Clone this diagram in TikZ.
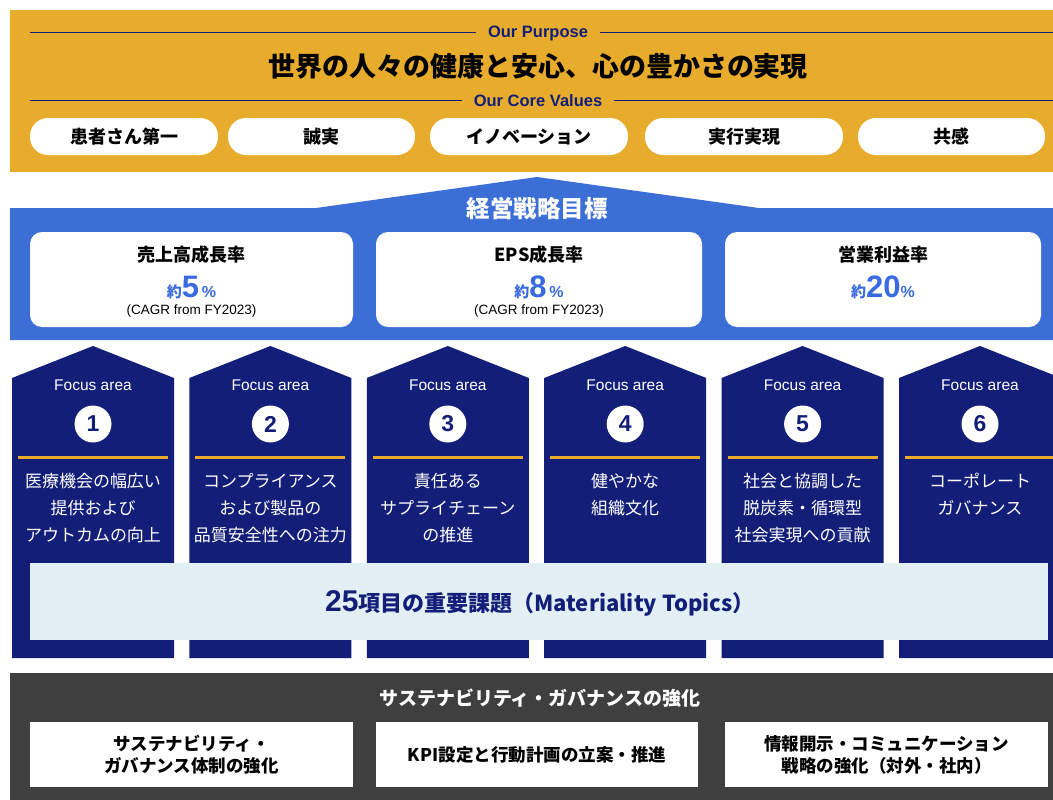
\documentclass[tikz,border=0pt]{standalone}
\usepackage{fontspec}
\setmainfont{Noto Sans CJK JP}
\newfontfamily\lat{Liberation Sans}
\definecolor{ygold}{HTML}{E8AC2C}
\definecolor{navy}{HTML}{121E78}
\definecolor{sblue}{HTML}{3C6FD6}
\definecolor{tblue}{HTML}{3A6AE0}
\definecolor{lband}{HTML}{E2F0F6}
\definecolor{dgrey}{HTML}{3F3F3F}
\tikzset{
  pill/.style={fill=white, rounded corners=18pt, draw=none},
  card/.style={fill=white, rounded corners=12pt, draw=none},
  gbox/.style={fill=white, draw=none},
  house/.style={fill=navy, draw=none},
  fa/.style={text=white, font=\lat\fontsize{15.5}{17}\selectfont, inner sep=0},
  num/.style={circle, fill=white, text=navy, minimum size=37pt, inner sep=0, font=\lat\bfseries\fontsize{23}{25}\selectfont},
  htext/.style={text=white, align=center, anchor=north, inner sep=0, font=\fontsize{17}{27}\selectfont},
  pilltext/.style={text=black, font=\bfseries\fontsize{18}{20}\selectfont, inner sep=0},
  cardtitle/.style={text=black, font=\bfseries\fontsize{18}{20}\selectfont, inner sep=0},
  cagr/.style={text=black, font=\lat\fontsize{13.5}{15}\selectfont, inner sep=0},
  rule/.style={draw=navy, line width=1pt},
  gtext/.style={text=black, align=center, font=\bfseries\fontsize{17.5}{22}\selectfont, inner sep=0}
}
\begin{document}
\begin{tikzpicture}[x=1pt,y=-1pt]
\useasboundingbox (0,0) rectangle (1053,800);
\fill[white] (0,0) rectangle (1053,800);
% ---------- yellow purpose band
\fill[ygold] (10,10) rectangle (1053,172);
\node[text=navy, font=\lat\bfseries\fontsize{16.5}{18}\selectfont, inner sep=0] (purp) at (538,33) {Our Purpose};
\coordinate (pl1) at (30,33); \coordinate (pr1) at (1053,33);
\draw[rule] (pl1) -- ([xshift=-12pt]purp.west);
\draw[rule] ([xshift=12pt]purp.east) -- (pr1);
\node[text=black, font=\bfseries\fontsize{27}{30}\selectfont, inner sep=0] (ptitle) at (538,66) {世界の人々の健康と安心、心の豊かさの実現};
\node[text=navy, font=\lat\bfseries\fontsize{16.5}{18}\selectfont, inner sep=0] (core) at (538,101) {Our Core Values};
\coordinate (pl2) at (30,101); \coordinate (pr2) at (1053,101);
\draw[rule] (pl2) -- ([xshift=-12pt]core.west);
\draw[rule] ([xshift=12pt]core.east) -- (pr2);
\foreach \a/\b/\t [count=\i] in {30/218/患者さん第一, 228/415/誠実, 430/628/イノベーション, 645/843/実行実現, 858/1045/共感}{
  \fill[pill] (\a,118) rectangle (\b,155);
  \node[pilltext] (cv\i) at ({(\a+\b)/2},136.5) {\t};
}
% ---------- blue strategy band
\fill[sblue] (10,208) -- (316,208) -- (537,177) -- (759,208) -- (1053,208) -- (1053,340) -- (10,340) -- cycle;
\node[text=white, font=\bfseries\fontsize{23.5}{26}\selectfont, inner sep=0] (kgoal) at (537,209) {経営戦略目標};
\fill[card] (30,232) rectangle (353,327);
\fill[card] (376,232) rectangle (702,327);
\fill[card] (725,232) rectangle (1041,327);
\node[cardtitle] (c1t) at (191.5,254.5) {売上高成長率};
\node[cardtitle] (c2t) at (539,254.5) {EPS成長率};
\node[cardtitle] (c3t) at (883,254.5) {営業利益率};
\node[text=tblue, inner sep=0, anchor=base] (c1n) at (191.5,297) {\bfseries\fontsize{15}{17}\selectfont 約\lat\fontsize{31}{33}\selectfont 5\fontsize{16}{18}\selectfont\,\%};
\node[text=tblue, inner sep=0, anchor=base] (c2n) at (539,297) {\bfseries\fontsize{15}{17}\selectfont 約\lat\fontsize{31}{33}\selectfont 8\fontsize{16}{18}\selectfont\,\%};
\node[text=tblue, inner sep=0, anchor=base] (c3n) at (883,297) {\bfseries\fontsize{15}{17}\selectfont 約\lat\fontsize{31}{33}\selectfont 20\fontsize{16}{18}\selectfont\%};
\node[cagr] (c1c) at (191.5,311.5) {(CAGR from FY2023)};
\node[cagr] (c2c) at (539,311.5) {(CAGR from FY2023)};
% ---------- focus area houses
\foreach \i/\t in {1/{医療機会の幅広い\\提供および\\アウトカムの向上}, 2/{コンプライアンス\\および製品の\\品質安全性への注力}, 3/{責任ある\\サプライチェーン\\の推進}, 4/{健やかな\\組織文化}, 5/{社会と協調した\\脱炭素・循環型\\社会実現への貢献}, 6/{コーポレート\\ガバナンス}}{
  \pgfmathsetmacro{\L}{12+177.4*(\i-1)}
  \pgfmathsetmacro{\R}{\L+162}
  \pgfmathsetmacro{\C}{\L+81}
  \fill[house] (\L,658) -- (\L,378) -- (\C,346) -- (\R,378) -- (\R,658) -- cycle;
  \node[fa] (fa\i) at (\C,385) {Focus area};
  \node[num] (n\i) at (\C,424) {\i};
  \draw[ygold, line width=3pt] (\L+6,457) -- (\R-6,457);
  \node[htext] (ht\i) at (\C,473) {\t};
}
% ---------- materiality band
\fill[lband] (30,563) rectangle (1048,640);
\node[text=navy, inner sep=0] (mat) at (540,603) {\bfseries\lat\fontsize{30}{32}\selectfont 25\fontspec{Noto Sans CJK JP}\bfseries\fontsize{22}{25}\selectfont 項目の重要課題（Materiality Topics）};
% ---------- grey governance band
\fill[dgrey] (10,673) rectangle (1053,800);
\node[text=white, font=\bfseries\fontsize{19}{21}\selectfont, inner sep=0] (gtitle) at (540,698) {サステナビリティ・ガバナンスの強化};
\fill[gbox] (30,722) rectangle (353,787);
\fill[gbox] (376,722) rectangle (698,787);
\fill[gbox] (725,722) rectangle (1048,787);
\node[gtext] (g1) at (191.5,754.5) {サステナビリティ・\\ガバナンス体制の強化};
\node[gtext] (g2) at (537,754.5) {KPI設定と行動計画の立案・推進};
\node[gtext] (g3) at (886.5,754.5) {情報開示・コミュニケーション\\戦略の強化（対外・社内）};
\end{tikzpicture}
\end{document}
